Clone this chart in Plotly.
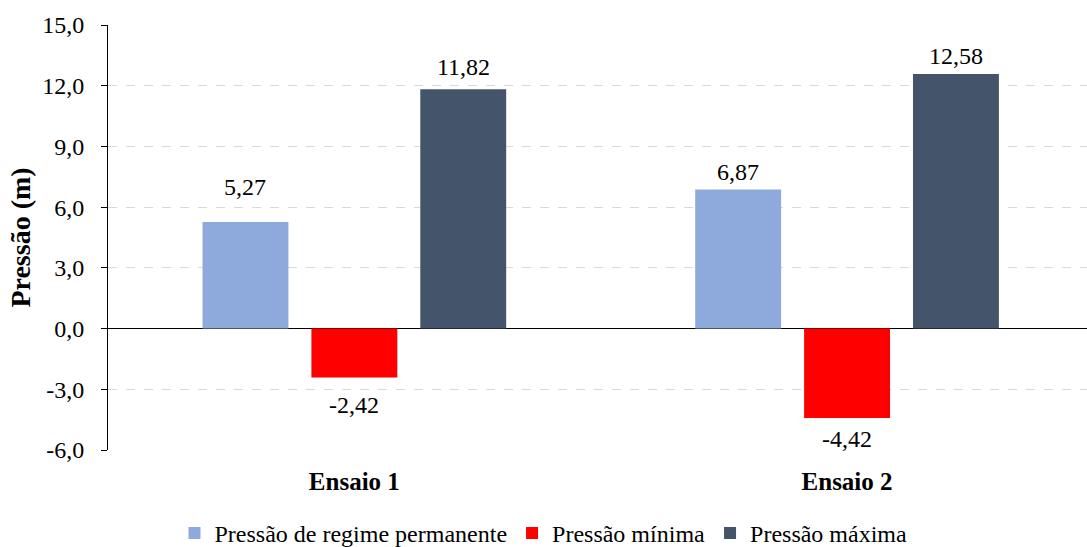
import plotly.graph_objects as go

# Ensaios e pressões medidas (m)
ensaios = ["Ensaio 1", "Ensaio 2"]
series_names = ["Pressão de regime permanente", "Pressão mínima", "Pressão máxima"]
regime_permanente = [5.27, 6.87]
pressao_minima = [-2.42, -4.42]
pressao_maxima = [11.82, 12.58]
y_ticks = [-6, -3, 0, 3, 6, 9, 12, 15]

series_values = [regime_permanente, pressao_minima, pressao_maxima]
colors = ["#8EA9DB", "#FF0000", "#44546A"]
# vertical offset (px) of each value label from the end of its bar
label_offsets = [[35, 18], [-27, -21], [22, 18]]

FONT = "Liberation Serif"


def fmt(v, nd):
    # decimal comma, plain hyphen for negatives
    return f"{v:.{nd}f}".replace(".", ",")


fig = go.Figure()
for name, vals, col in zip(series_names, series_values, colors):
    fig.add_trace(go.Bar(
        x=ensaios, y=vals, name=name,
        marker=dict(color=col, line=dict(width=0)),
    ))

# value labels: x position follows the bar slot inside each group
n = len(series_names)
bargap = 0.337
slot = (1 - bargap) / n
annotations = []
for si, (vals, offs) in enumerate(zip(series_values, label_offsets)):
    for ci, (v, off) in enumerate(zip(vals, offs)):
        xpos = ci - (1 - bargap) / 2 + slot * (si + 0.5)
        annotations.append(dict(
            x=xpos, y=v, xref="x", yref="y",
            text=fmt(v, 2),
            showarrow=False, yanchor="middle", yshift=off,
            font=dict(family=FONT, size=24, color="black"),
        ))

fig.update_layout(
    width=1087, height=547,
    margin=dict(l=108, r=0, t=25, b=97),
    paper_bgcolor="white", plot_bgcolor="white",
    barmode="group", bargap=bargap, bargroupgap=0.211,
    font=dict(family=FONT, size=24, color="black"),
    annotations=annotations,
    showlegend=True,
    legend=dict(
        orientation="h", xref="container", yref="container",
        x=0.5, xanchor="center", y=0.025, yanchor="middle",
        font=dict(family=FONT, size=24, color="black"),
        itemclick=False, itemdoubleclick=False,
    ),
    xaxis=dict(
        type="category", range=[-0.5, 1.487],
        tickvals=ensaios, ticktext=[f"<b>{e}</b>" for e in ensaios],
        showgrid=False, showline=False, ticks="",
        tickfont=dict(family=FONT, size=25, color="black"),
        ticklabelstandoff=14,
    ),
    yaxis=dict(
        range=[-6, 15], tickvals=y_ticks,
        ticktext=[fmt(t, 1) for t in y_ticks],
        showline=True, linecolor="black", linewidth=1,
        ticks="outside", ticklen=6, tickcolor="black", tickwidth=1,
        ticklabelstandoff=12,
        showgrid=True, gridcolor="#D9D9D9", griddash="dash", gridwidth=1,
        zeroline=True, zerolinecolor="black", zerolinewidth=1,
        tickfont=dict(family=FONT, size=24, color="black"),
        title=dict(text="<b>Pressão (m)</b>", standoff=3,
                   font=dict(family=FONT, size=28, color="black")),
    ),
)

fig.write_html("out.html")
